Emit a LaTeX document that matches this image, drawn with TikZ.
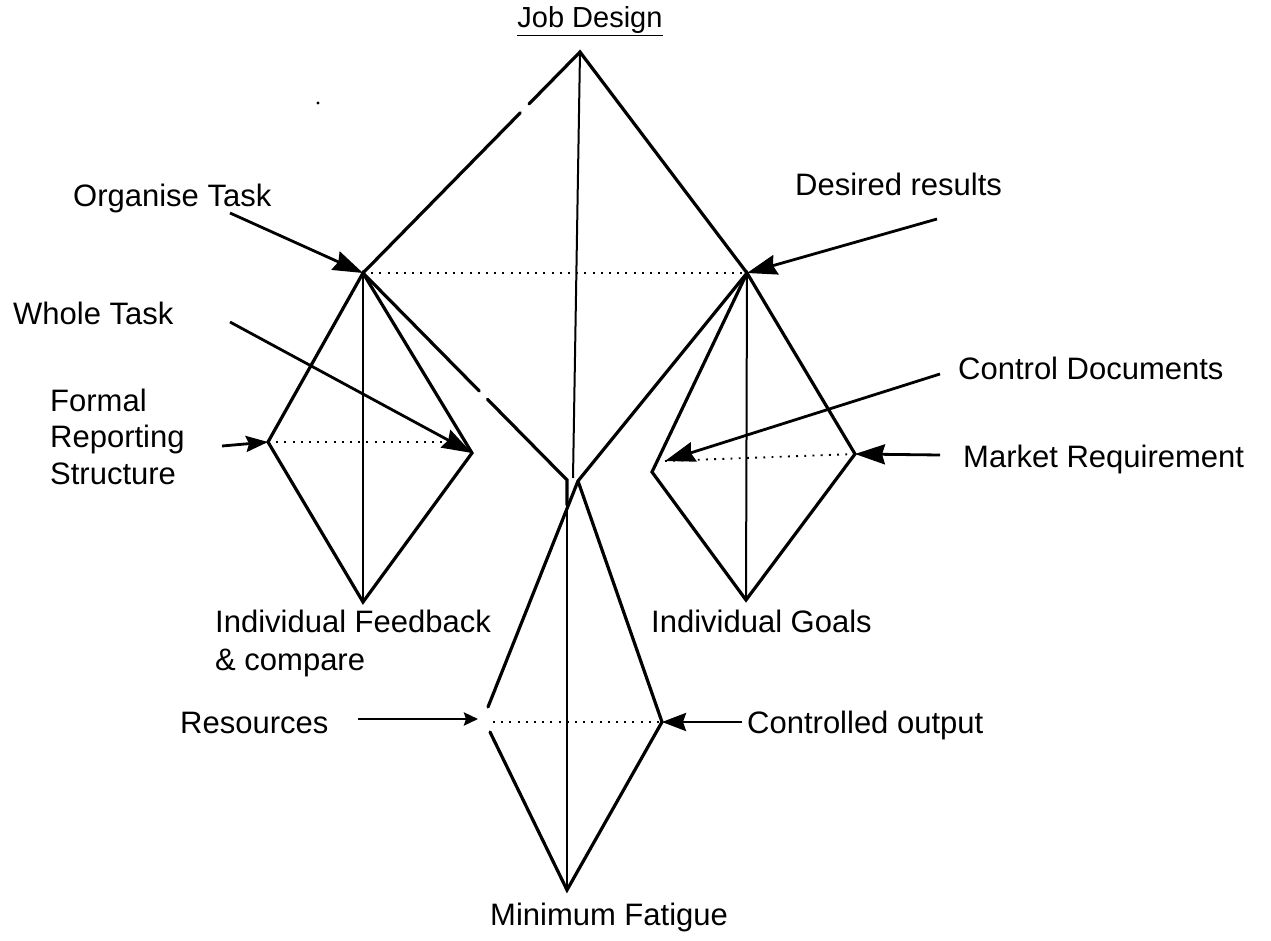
\documentclass[tikz,border=0pt]{standalone}
\usepackage{fontspec}
\setmainfont{Liberation Sans}
\usetikzlibrary{arrows.meta,calc}
\begin{document}
\begin{tikzpicture}[x=1pt,y=-1pt,
  edge/.style={line width=3.2pt, line cap=round, line join=miter},
  axis/.style={line width=2pt},
  level/.style={line width=1.9pt, dash pattern=on 1.9pt off 6.3pt},
  pointer/.style={line width=2.8pt, -{Stealth[length=30pt,width=20pt,inset=3pt]}},
  smallpointer/.style={line width=2.8pt, -{Stealth[length=14pt,width=13pt,inset=2pt]}},
  lbl/.style={anchor=base west, inner sep=0pt, align=left,
              font=\fontsize{31}{36.5}\selectfont}
]
\useasboundingbox (0,0) rectangle (1271,941);

% ---- vertices of the four diamonds
\coordinate (A)   at (580,52);
\coordinate (L)   at (363,273);
\coordinate (R)   at (747,273);
\coordinate (Tc)  at (573,478);
\coordinate (Bl)  at (567,480);
\coordinate (Bls) at (567,505);
\coordinate (Bt)  at (578,481);
\coordinate (LL)  at (268,442);
\coordinate (LR)  at (472,453);
\coordinate (LB)  at (363,602);
\coordinate (RL)  at (652,472);
\coordinate (RR)  at (855,454);
\coordinate (RB)  at (746,600);
\coordinate (BLu) at (488,707);
\coordinate (BLd) at (490,732);
\coordinate (BR)  at (662,722);
\coordinate (BB)  at (567,890);

% ---- ends of the dotted levels
\coordinate (LLd) at (445,442);
\coordinate (RLd) at (665,461);
\coordinate (BLm) at (493,722);

% ---- upper diamond (two small breaks in the left edges)
\draw[edge] (L) -- ($(L)!0.725!(A)$);
\draw[edge] ($(L)!0.765!(A)$) -- (A) -- (R);
\draw[axis] (A) -- (Tc);
\draw[edge] (L) -- ($(L)!0.57!(Bl)$);
\draw[edge] ($(L)!0.61!(Bl)$) -- (Bl) -- (Bls);
\draw[level] (L) -- (R);

% ---- lower diamond
\draw[edge] (R) -- (Bt) -- (BLu);
\draw[edge] (BLd) -- (BB) -- (BR) -- (Bt);
\draw[axis] (Bl) -- (BB);
\draw[level] (BLm) -- (BR);

% ---- left diamond
\draw[edge] (L) -- (LL) -- (LB) -- (LR) -- cycle;
\draw[axis] (L) -- (LB);
\draw[level] (LL) -- (LLd);

% ---- right diamond
\draw[edge] (R) -- (RL) -- (RB) -- (RR) -- cycle;
\draw[axis] (R) -- (RB);
\draw[level] (RLd) -- (RR);

% ---- stray mark
\fill (318,103) circle (1.6pt);

% ---- labels (multi-line labels are placed by their last baseline)
\node[anchor=base, inner sep=0pt, font=\fontsize{29}{35}\selectfont] (jd) at (590,28) {\underline{Job Design}};
\node[lbl] (org) at (73,207) {Organise Task};
\node[lbl] (whole) at (13,324) {Whole Task};
\node[lbl] (formal) at (50,484) {Formal\\Reporting\\Structure};
\node[lbl, font=\fontsize{31}{38}\selectfont] (fb) at (215,670) {Individual Feedback\\\& compare};
\node[lbl] (goals) at (651,632) {Individual Goals};
\node[lbl] (fat) at (490,925) {Minimum Fatigue};
\node[lbl] (des) at (795,196) {Desired results};
\node[lbl] (ctl) at (958,379) {Control Documents};
\node[lbl] (mkt) at (963,467) {Market Requirement};
\node[lbl] (res) at (180,733) {Resources};
\node[lbl] (out) at (747,733) {Controlled output};

% ---- arrow tails
\coordinate (orgT) at (230,213);
\coordinate (wholeT) at (230,322);
\coordinate (formalT) at (222,446);
\coordinate (desT) at (937,219);
\coordinate (ctlT) at (940,374);
\coordinate (mktT) at (940,455);
\coordinate (resT) at (358,719);
\coordinate (resH) at (478,719);
\coordinate (outT) at (742,722);

% ---- arrows
\draw[pointer] (orgT) -- (L);
\draw[pointer] (wholeT) -- (LR);
\draw[pointer, -{Stealth[length=22pt,width=16pt,inset=3pt]}] (formalT) -- (LL);
\draw[pointer] (desT) -- (R);
\draw[pointer] (ctlT) -- (RLd);
\draw[pointer] (mktT) -- (RR);
\draw[smallpointer] (resT) -- (resH);
\draw[pointer, -{Stealth[length=24pt,width=18pt,inset=3pt]}] (outT) -- (BR);
\end{tikzpicture}
\end{document}
